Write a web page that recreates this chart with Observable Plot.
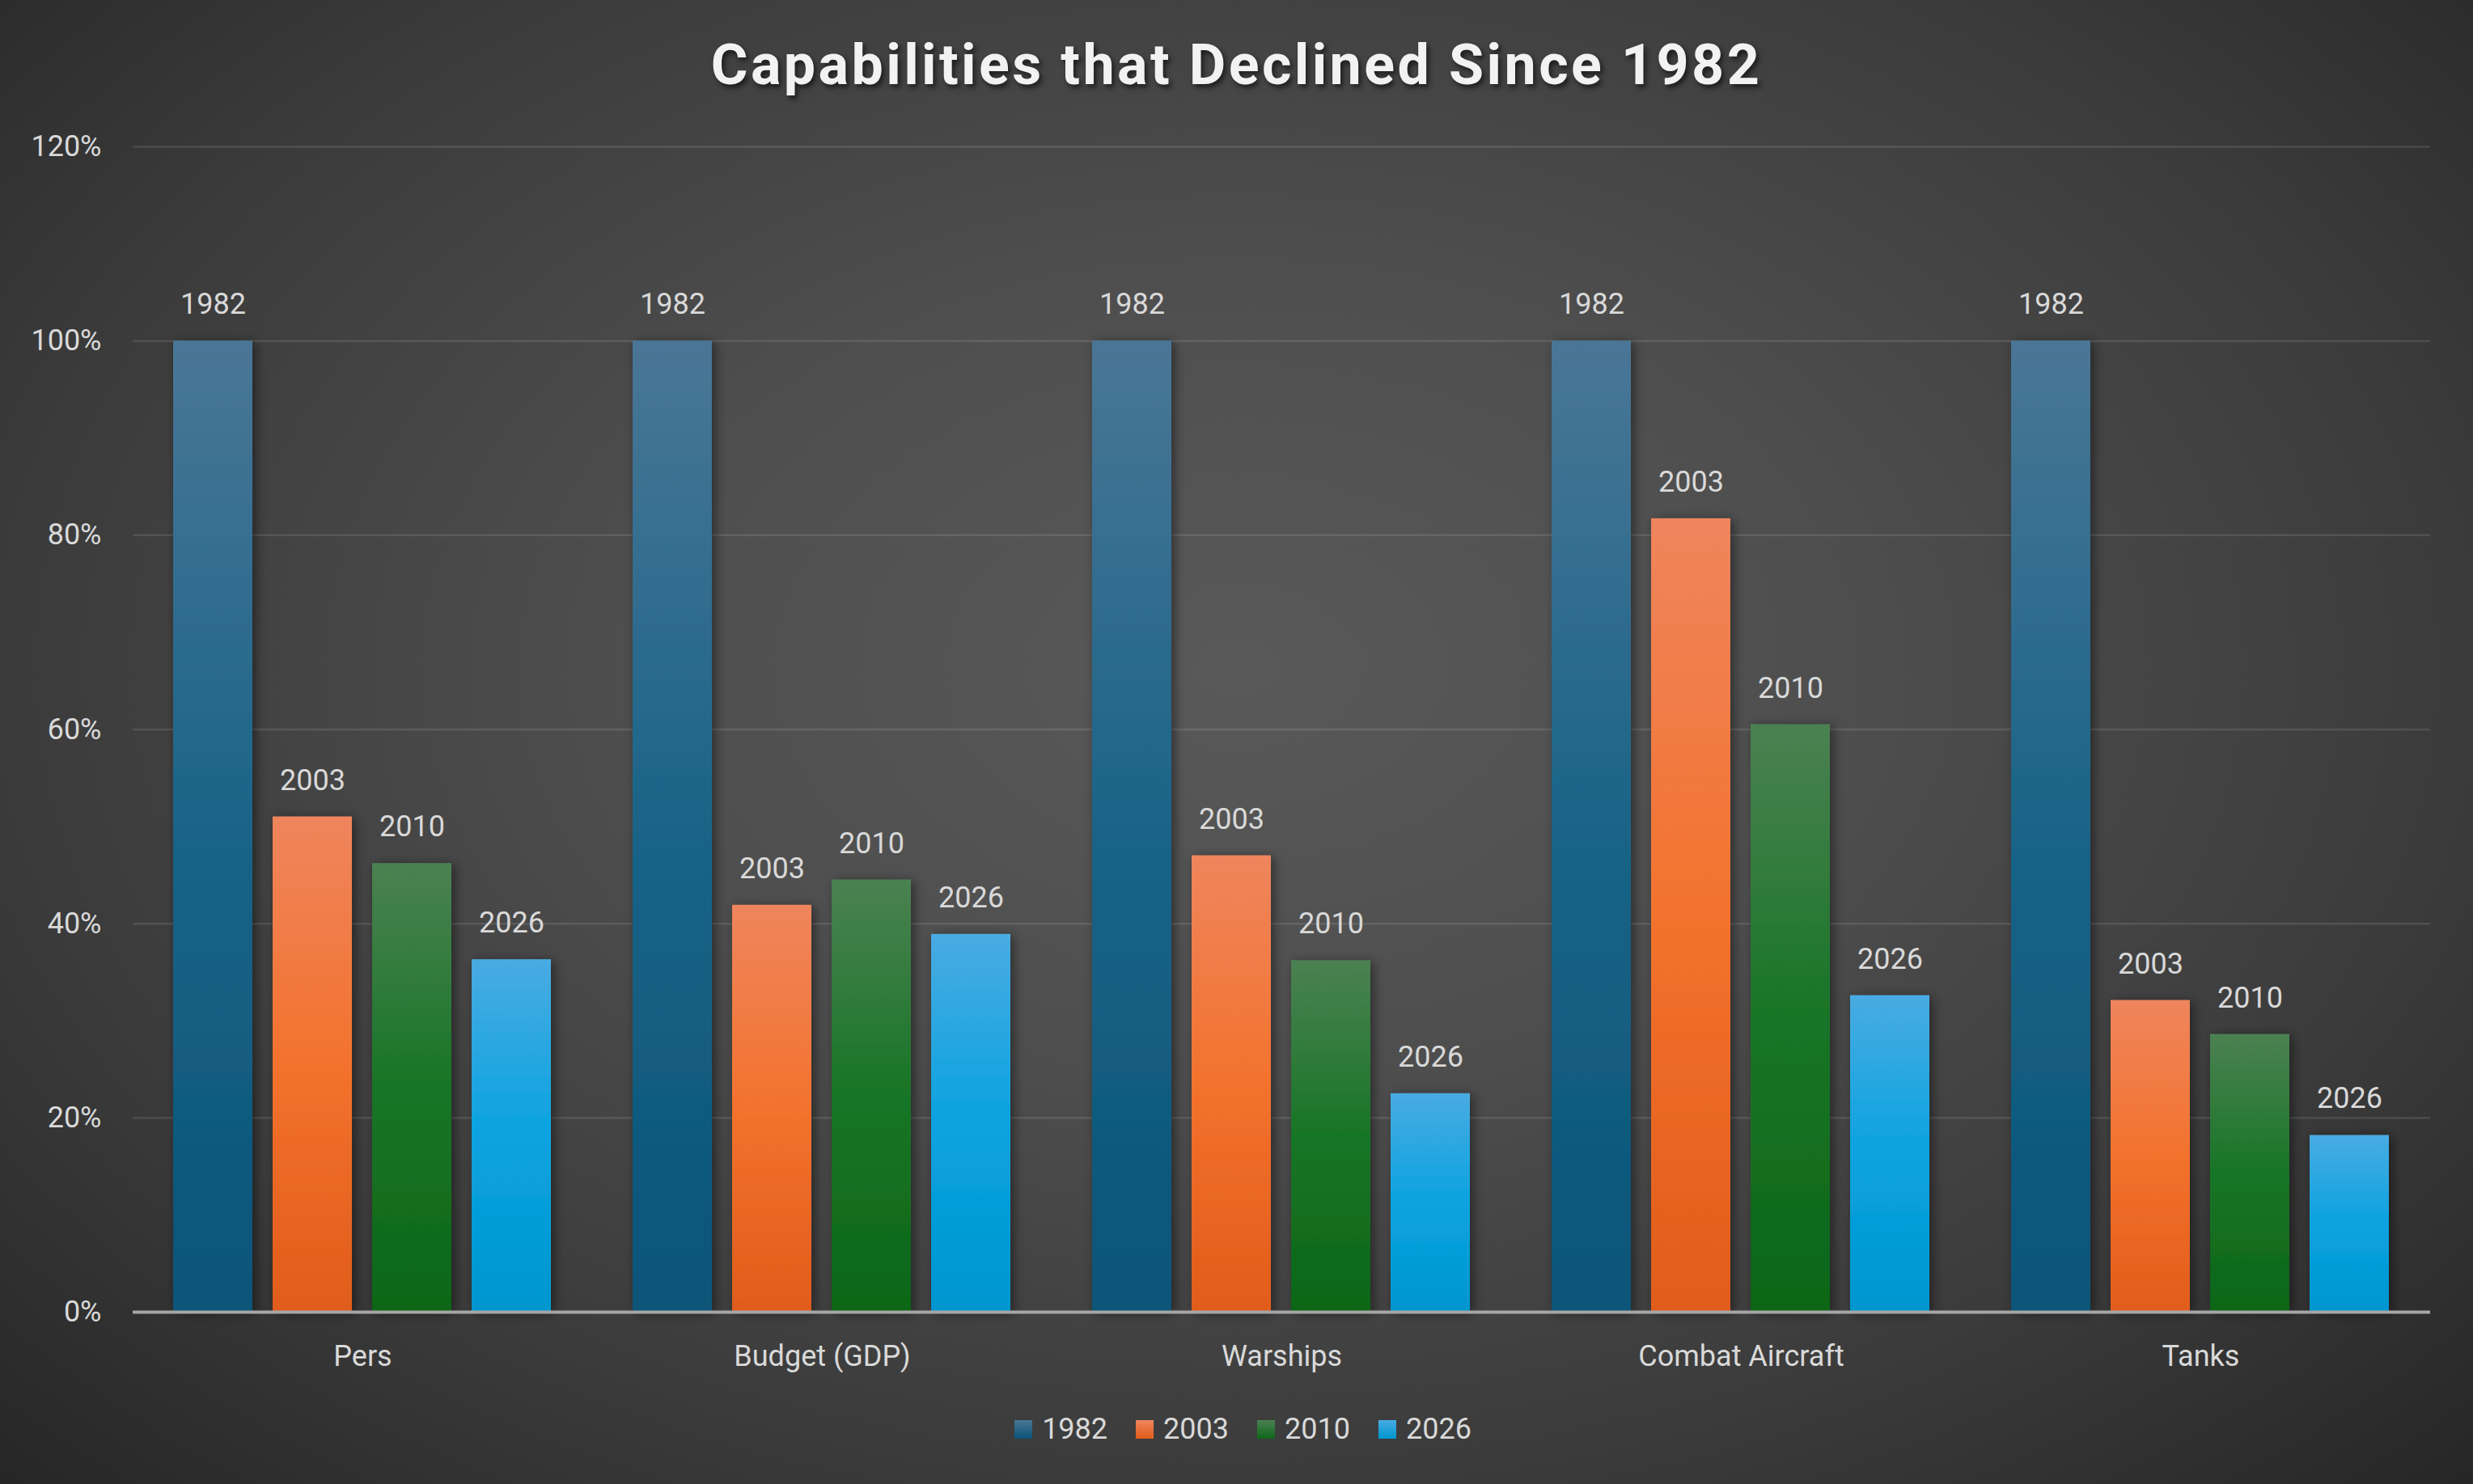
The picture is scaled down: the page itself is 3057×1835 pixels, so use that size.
<!DOCTYPE html>
<html>
<head>
<meta charset="utf-8">
<script src="https://cdn.jsdelivr.net/npm/d3@7"></script>
<script src="https://cdn.jsdelivr.net/npm/@observablehq/plot@0.6"></script>
<style>
  html, body { margin: 0; padding: 0; }
  body { width: 3057px; height: 1835px; overflow: hidden; font-family: Roboto, "Noto Sans", sans-serif; }
  #page {
    position: relative; width: 3057px; height: 1835px;
    background: radial-gradient(ellipse farthest-corner at 50% 45%, #595959 0%, #4e4e4e 35%, #3b3b3b 70%, #262626 100%);
  }
  #title {
    height: 150px; line-height: 160px; text-align: center;
    font-family: Roboto, sans-serif; font-weight: 700; font-size: 70px; letter-spacing: 3.4px;
    color: #f2f2f2; text-shadow: 3px 4px 6px rgba(0,0,0,0.6);
  }
  #chart { height: 1580px; }
  #legend {
    height: 105px; display: flex; justify-content: center; align-items: flex-start;
    padding-top: 16px; padding-left: 16px; box-sizing: border-box; gap: 35px;
    font-family: Roboto, sans-serif; font-size: 36px; color: #d9d9d9;
  }
  .item { display: flex; align-items: center; gap: 12px; }
  .sw { width: 22px; height: 23px; }
</style>
</head>
<body>
<div id="page">
  <div id="title">Capabilities that Declined Since 1982</div>
  <div id="chart"></div>
  <div id="legend"></div>
</div>
<script>
const categories = ["Pers", "Budget (GDP)", "Warships", "Combat Aircraft", "Tanks"];
const years = ["1982", "2003", "2010", "2026"];
const v1982 = [1.000, 1.000, 1.000, 1.000, 1.000];
const v2003 = [0.510, 0.419, 0.470, 0.817, 0.321];
const v2010 = [0.462, 0.445, 0.362, 0.605, 0.286];
const v2026 = [0.363, 0.389, 0.225, 0.326, 0.182];
const yTicks = [0, 0.2, 0.4, 0.6, 0.8, 1.0, 1.2];

const seriesValues = [v1982, v2003, v2010, v2026];
const gradStops = {
  "1982": ["#4a7696", "#1a6488", "#0a5479"],
  "2003": ["#ef855d", "#f3722d", "#e05c1a"],
  "2010": ["#4b8152", "#187526", "#0d6618"],
  "2026": ["#49abe2", "#0aa3e0", "#0096d0"]
};

const rows = [];
categories.forEach((c, i) => {
  years.forEach((y, j) => rows.push({cat: c, year: y, value: seriesValues[j][i]}));
});

const svg = Plot.plot({
  width: 3057,
  height: 1580,
  marginLeft: 162,
  marginRight: 51,
  marginTop: 31,
  marginBottom: 108,
  style: {background: "transparent", color: "#d9d9d9", fontFamily: "Roboto, sans-serif", fontSize: "36px"},
  fx: {domain: categories, padding: 0, label: null, axis: "bottom", tickSize: 0, tickPadding: 41},
  x: {domain: years, paddingInner: 0.2, paddingOuter: 0.4, axis: null},
  y: {domain: [0, 1.2], ticks: yTicks, tickFormat: d3.format(".0%"), label: null, tickSize: 0, tickPadding: 39},
  color: {domain: years, range: years.map(y => `url(#g${y})`)},
  marks: [
    Plot.ruleY(yTicks.slice(1), {stroke: "#ffffff", strokeOpacity: 0.11, strokeWidth: 2.5}),
    Plot.barY(rows, {fx: "cat", x: "year", y: "value", fill: "year"}),
    Plot.ruleY([0], {stroke: "#a6a6a6", strokeWidth: 4}),
    Plot.text(rows, {fx: "cat", x: "year", y: "value", text: "year", dy: -45, fill: "#d9d9d9", fontSize: 36})
  ]
});

const defs = d3.select(svg).insert("defs", ":first-child");
years.forEach(y => {
  const g = defs.append("linearGradient").attr("id", `g${y}`).attr("x1", 0).attr("y1", 0).attr("x2", 0).attr("y2", 1);
  const s = gradStops[y];
  g.append("stop").attr("offset", "0%").attr("stop-color", s[0]);
  g.append("stop").attr("offset", "50%").attr("stop-color", s[1]);
  g.append("stop").attr("offset", "100%").attr("stop-color", s[2]);
});
const f = defs.append("filter").attr("id", "shadow").attr("x", "-30%").attr("y", "-5%").attr("width", "170%").attr("height", "115%");
f.append("feDropShadow").attr("dx", 4).attr("dy", 2).attr("stdDeviation", 7).attr("flood-color", "#000").attr("flood-opacity", 0.45);
d3.select(svg).selectAll("g[aria-label='bar'] rect").attr("filter", "url(#shadow)");

document.getElementById("chart").appendChild(svg);

const legend = document.getElementById("legend");
years.forEach(y => {
  const it = document.createElement("div");
  it.className = "item";
  const sw = document.createElement("div");
  sw.className = "sw";
  sw.style.background = `linear-gradient(${gradStops[y][0]}, ${gradStops[y][2]})`;
  const t = document.createElement("span");
  t.textContent = y;
  it.appendChild(sw);
  it.appendChild(t);
  legend.appendChild(it);
});
</script>
</body>
</html>
